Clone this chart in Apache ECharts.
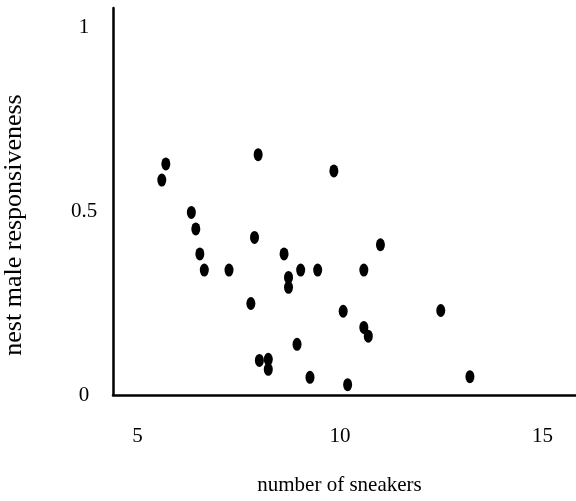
<!DOCTYPE html>
<html>
<head>
<meta charset="utf-8">
<script src="https://cdn.jsdelivr.net/npm/echarts@6/dist/echarts.min.js"></script>
<style>
html,body{margin:0;padding:0;background:#fff;}
#chart{width:576px;height:501px;}
</style>
</head>
<body>
<div id="chart"></div>
<script>
// Data
const sneakers = [5.60, 5.70, 6.33, 6.44, 6.54, 6.65, 7.26, 7.80, 7.89, 7.98, 8.01, 8.23, 8.23, 8.62, 8.73, 8.73, 8.94, 9.03, 9.26, 9.45, 9.85, 10.08, 10.19, 10.59, 10.59, 10.70, 11.00, 12.49, 13.21];
const responsiveness = [0.585, 0.629, 0.497, 0.452, 0.384, 0.340, 0.340, 0.249, 0.429, 0.654, 0.094, 0.097, 0.070, 0.384, 0.320, 0.293, 0.138, 0.340, 0.048, 0.340, 0.610, 0.228, 0.028, 0.340, 0.184, 0.160, 0.409, 0.230, 0.050];
const xTicks = [5, 10, 15];
const yTicks = [0, 0.5, 1];
const xTitle = 'number of sneakers';
const yTitle = 'nest male responsiveness';

const points = sneakers.map((x, i) => [x, responsiveness[i]]);
const font = '"Liberation Serif", "DejaVu Serif", serif';

const chart = echarts.init(document.getElementById('chart'), null, {renderer: 'canvas'});
chart.setOption({
  animation: false,
  backgroundColor: '#ffffff',
  grid: {left: 113, right: 0, top: 8, bottom: 98, containLabel: false},
  xAxis: {
    type: 'value',
    min: 4.395,
    max: 15.83,
    splitLine: {show: false},
    axisLine: {show: true, onZero: false, lineStyle: {color: '#000', width: 2.5}},
    axisTick: {show: false},
    axisLabel: {
      customValues: xTicks,
      margin: 31,
      color: '#000',
      fontFamily: font,
      fontSize: 21,
      formatter: v => String(v)
    },
    name: xTitle,
    nameLocation: 'middle',
    nameGap: 80,
    nameTextStyle: {color: '#000', fontFamily: font, fontSize: 21, padding: [0, 10, 0, 0]}
  },
  yAxis: {
    type: 'value',
    min: 0,
    max: 1.0533,
    splitLine: {show: false},
    axisLine: {show: true, onZero: false, lineStyle: {color: '#000', width: 2.5}},
    axisTick: {show: false},
    axisLabel: {
      customValues: yTicks,
      margin: 29,
      align: 'center',
      color: '#000',
      fontFamily: font,
      fontSize: 21,
      formatter: v => String(v)
    }
  },
  graphic: [{
    type: 'text',
    x: 14,
    y: 225,
    rotation: Math.PI / 2,
    style: {
      text: yTitle,
      fill: '#000',
      font: '26px ' + font,
      textAlign: 'center',
      textVerticalAlign: 'middle'
    }
  }],
  series: [{
    type: 'scatter',
    data: points,
    symbol: 'circle',
    symbolSize: [9, 13],
    itemStyle: {color: '#000', opacity: 1}
  }]
});
</script>
</body>
</html>
